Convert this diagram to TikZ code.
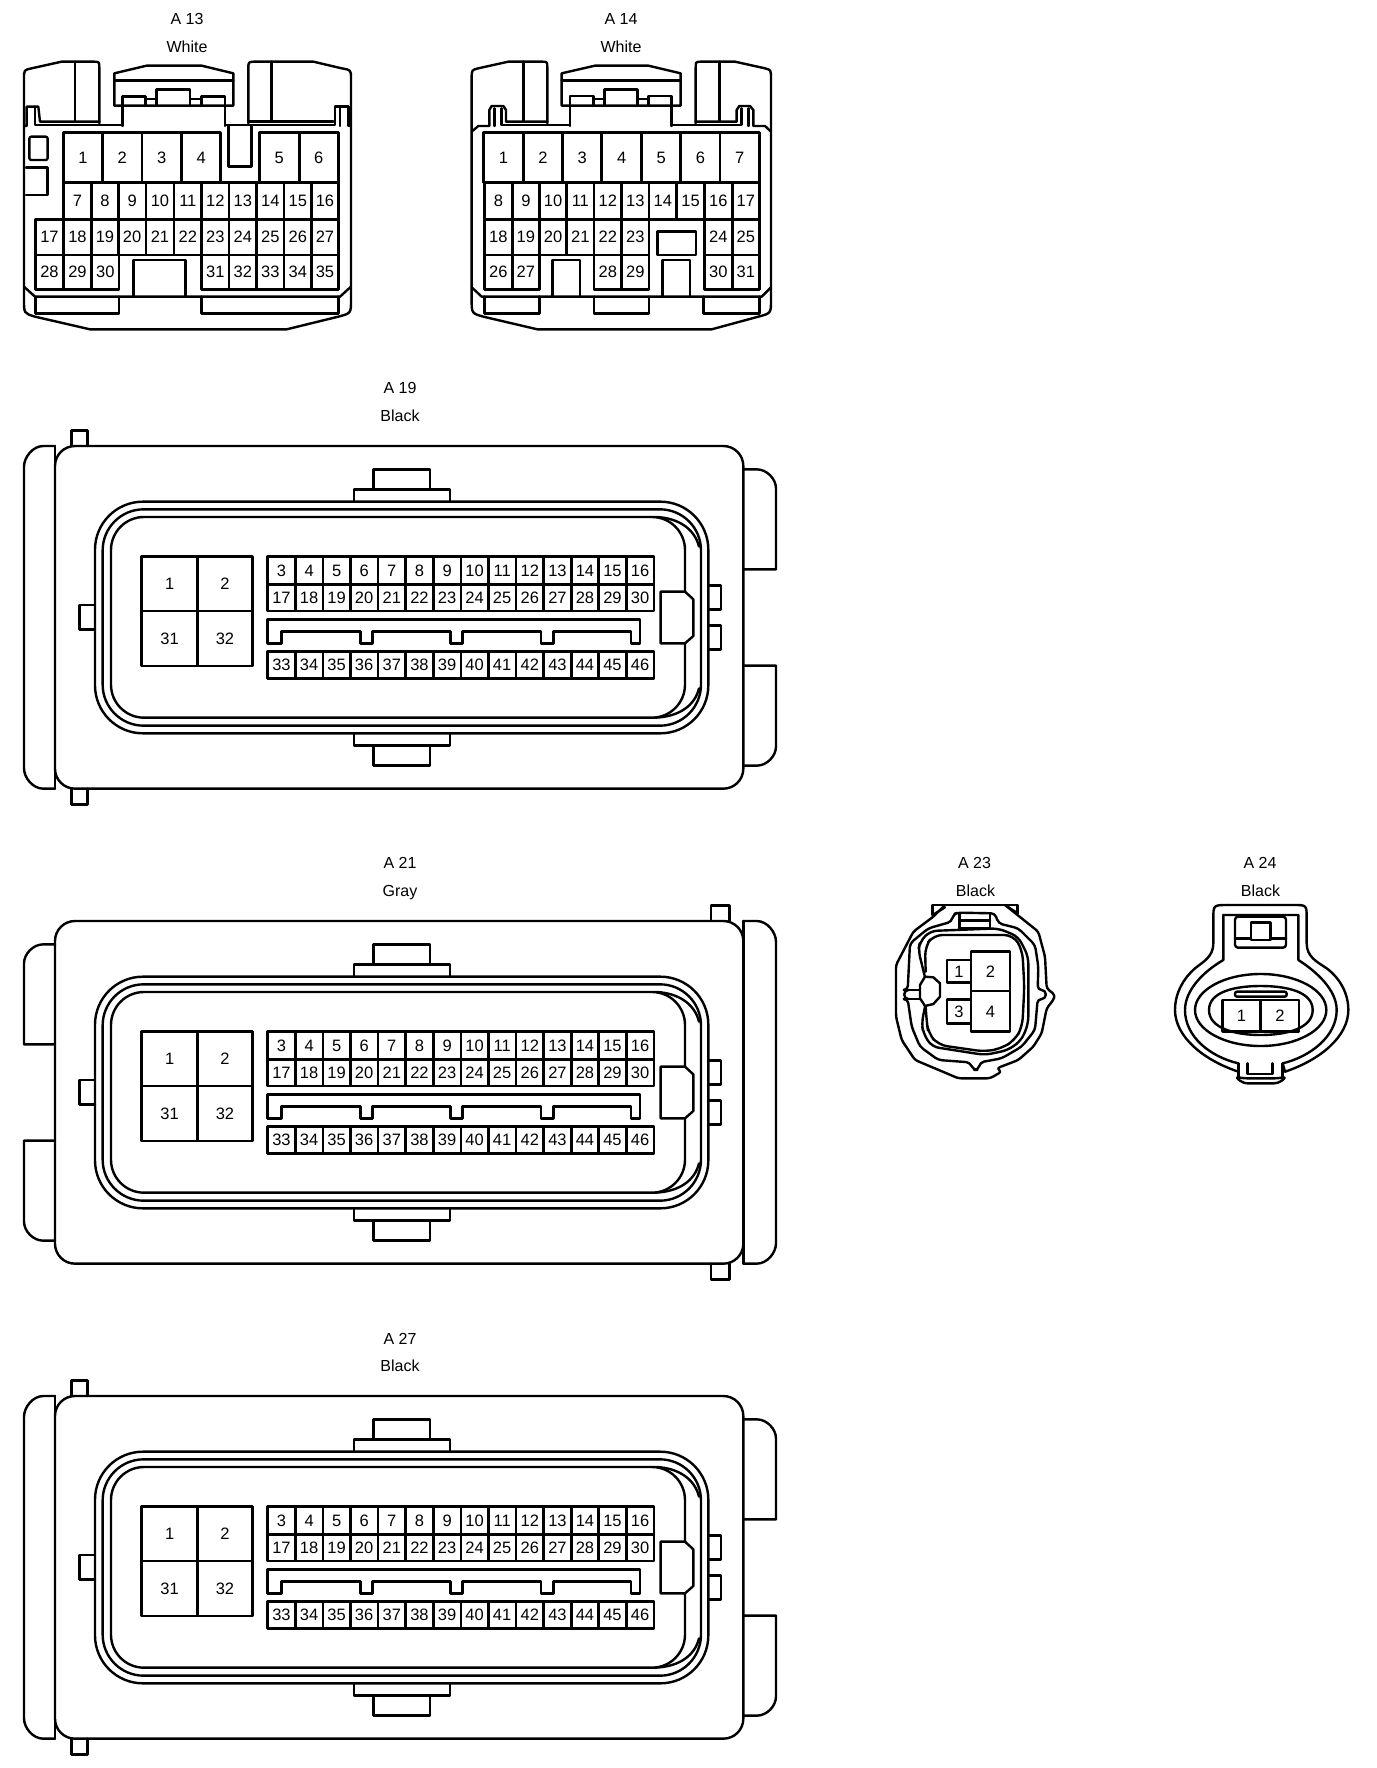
\documentclass[tikz,border=0pt]{standalone}
\usepackage{fontspec}
\setmainfont{Liberation Sans}
\tikzset{
  ln/.style={line width=2.4pt,line join=round,line cap=round,draw=black},
  pinlabel/.style={inner sep=0pt,font=\fontsize{16.5}{18}\selectfont,text=black},
  title/.style={inner sep=0pt,font=\fontsize{16}{18}\selectfont,text=black,text height=11.5pt,text depth=0pt},
  zoomed/.style={x=0.33333pt,y=-0.33333pt}
}
% row of pins: y1, y2, prefix, list of xa/xb/label
\newcommand{\pinrow}[4]{%
  \foreach \xa/\xb/\t in {#4}{%
    \draw[ln] (\xa,#1) rectangle (\xb,#2);
    \node[pinlabel] (#3\t) at ({(\xa+\xb)/2},{(#1+#2)/2}) {\t};
  }%
}
\newcommand{\ecucore}[1]{%
  % body
  \draw[ln,rounded corners=20pt] (165,228) rectangle (2230,1256);
  % top and bottom latches
  \draw[ln] (1062,393)--(1062,358)--(1350,358)--(1350,393);
  \draw[ln] (1120,358)--(1120,298)--(1290,298)--(1290,358);
  \draw[ln] (1062,1093)--(1062,1127)--(1350,1127)--(1350,1093);
  \draw[ln] (1120,1127)--(1120,1187)--(1290,1187)--(1290,1127);
  % shroud
  \draw[ln,rounded corners=48pt] (285,395) rectangle (2125,1090);
  \draw[ln,rounded corners=41pt] (308,418) rectangle (2103,1067);
  \draw[ln,rounded corners=33pt] (333,441) rectangle (2055,1043);
  \draw[ln] (1970,441) .. controls (2040,445) and (2085,480) .. (2097,530);
  \draw[ln] (1965,1043) .. controls (2040,1040) and (2085,1005) .. (2097,955);
  % side tabs
  \draw[ln] (285,705)--(238,705)--(238,778)--(285,778);
  \draw[ln] (2125,647)--(2163,647)--(2163,718)--(2125,718);
  \draw[ln] (2125,767)--(2163,767)--(2163,838)--(2125,838);
  \draw[ln,fill=white] (1982,665)--(2055,665)--(2080,688)--(2080,798)--(2055,820)--(1982,820)--cycle;
  % big pins
  \pinrow{560}{723}{#1}{425/593/1,593/757/2}
  \pinrow{723}{888}{#1}{425/593/31,593/757/32}
  % small pins
  \pinrow{560}{643}{#1}{803/886/3,886/969/4,969/1051/5,1051/1134/6,1134/1217/7,1217/1300/8,1300/1383/9,1383/1465/10,1465/1548/11,1548/1631/12,1631/1714/13,1714/1796/14,1796/1879/15,1879/1962/16}
  \pinrow{643}{723}{#1}{803/886/17,886/969/18,969/1051/19,1051/1134/20,1134/1217/21,1217/1300/22,1300/1383/23,1383/1465/24,1465/1548/25,1548/1631/26,1631/1714/27,1714/1796/28,1796/1879/29,1879/1962/30}
  \pinrow{845}{925}{#1}{803/886/33,886/969/34,969/1051/35,1051/1134/36,1134/1217/37,1217/1300/38,1300/1383/39,1383/1465/40,1465/1548/41,1548/1631/42,1631/1714/43,1714/1796/44,1796/1879/45,1879/1962/46}
  % comb
  \draw[ln] (803,748)--(803,820)--(845,820)--(845,785)--(1082,785)--(1082,820)--(1118,820)--(1118,785)--(1352,785)--(1352,820)--(1388,820)--(1388,785)--(1623,785)--(1623,820)--(1660,820)--(1660,785)--(1893,785)--(1893,820)--(1920,820)--(1920,748)--cycle;
}
% end piece: xb body edge, xc start of curve, xo outer, t1 t2 small tab
\newcommand{\ecupiece}[5]{%
  \draw[ln] (#1,228)--(#2,228) .. controls ({#2+0.55*(#3-#2)},228) and (#3,262) .. (#3,290)--(#3,1195) .. controls (#3,1223) and ({#2+0.55*(#3-#2)},1256) .. (#2,1256)--(#1,1256);
  \draw[ln] (#1,228)--(#1,1256);
  \draw[ln] (#4,228)--(#4,182)--(#5,182)--(#5,228);
  \draw[ln] (#4,1256)--(#4,1303)--(#5,1303)--(#5,1256);
}
\newcommand{\ecutabs}[3]{%
  \draw[ln] (#1,298)--(#2,298) .. controls ({#2+0.55*(#3-#2)},298) and (#3,328) .. (#3,355)--(#3,598)--(#1,598);
  \draw[ln] (#1,887)--(#3,887)--(#3,1130) .. controls (#3,1157) and ({#2+0.55*(#3-#2)},1187) .. (#2,1187)--(#1,1187);
}
\begin{document}
\begin{tikzpicture}[x=1pt,y=-1pt]
\useasboundingbox (0,0) rectangle (1376,1768);
% ---------- titles
\node[title] (t13a) at (187,19) {A 13};
\node[title] (t13b) at (187,46.7) {White};
\node[title] (t14a) at (621,19) {A 14};
\node[title] (t14b) at (621,46.7) {White};
\node[title] (t19a) at (400,388) {A 19};
\node[title] (t19b) at (400,415.7) {Black};
\node[title] (t21a) at (400,863) {A 21};
\node[title] (t21b) at (400,890.7) {Gray};
\node[title] (t27a) at (400,1338.3) {A 27};
\node[title] (t27b) at (400,1365.5) {Black};
\node[title] (t23a) at (974.5,863) {A 23};
\node[title] (t23b) at (975.5,891) {Black};
\node[title] (t24a) at (1260,863) {A 24};
\node[title] (t24b) at (1260.5,891) {Black};
% ---------- A13
\begin{scope}[shift={(0,0)},zoomed]
  \draw[ln] (298,370)--(298,205) .. controls (298,185) .. (280,185)--(185,185)--(95,205) .. controls (72,210) .. (72,235)--(72,900) .. controls (72,940) .. (105,950)--(270,988)--(860,988)--(1015,950) .. controls (1053,940) .. (1053,900)--(1053,235) .. controls (1053,210) .. (1025,205)--(940,185)--(770,185) .. controls (745,185) .. (745,205)--(745,370);
  \draw[ln] (225,185)--(225,365);
  \draw[ln] (815,185)--(815,365);
  \draw[ln] (343,317)--(343,220)--(440,197)--(605,197)--(700,220)--(700,317)--cycle;
  \draw[ln] (343,242)--(700,242);
  \draw[ln] (368,378)--(368,290)--(437,290)--(437,317);
  \draw[ln] (470,317)--(470,268)--(570,268)--(570,317);
  \draw[ln] (605,317)--(605,290)--(675,290)--(675,378);
  \draw[ln] (437,297)--(470,297) (570,297)--(605,297);
  \draw[ln] (72,378)--(80,378)--(80,320)--(115,320)--(120,365)--(298,365);
  \draw[ln] (105,320)--(105,375)--(368,375);
  \draw[ln] (675,375)--(1005,375)--(1005,320)--(1045,320)--(1045,378)--(1053,378);
  \draw[ln] (745,365)--(1000,365);
  \draw[ln] (1020,320)--(1020,378);
  \draw[ln] (685,378)--(685,500)--(755,500)--(755,378);
  \draw[ln,rounded corners=2pt] (88,410) rectangle (143,480);
  \draw[ln] (78,503)--(143,503)--(143,585)--(78,585);
  \pinrow{398}{548}{a13p}{190/308/1,308/426/2,426/545/3,545/662/4,778/898/5,898/1015/6}
  \pinrow{548}{658}{a13p}{190/275/7,275/355/8,355/438/9,438/522/10,522/605/11,605/687/12,687/770/13,770/852/14,852/935/15,935/1015/16}
  \pinrow{658}{765}{a13p}{107/190/17,190/275/18,275/355/19,355/438/20,438/522/21,522/605/22,605/687/23,687/770/24,770/852/25,852/935/26,935/1015/27}
  \pinrow{765}{868}{a13p}{107/190/28,190/275/29,275/357/30,605/687/31,687/770/32,770/852/33,852/935/34,935/1015/35}
  \draw[ln] (400,890)--(400,780)--(557,780)--(557,890);
  \draw[ln] (72,860)--(105,890)--(1020,890)--(1053,860);
  \draw[ln] (107,890)--(107,940)--(357,940)--(357,890);
  \draw[ln] (605,890)--(605,940)--(1015,940)--(1015,890);
\end{scope}
% ---------- A14
\begin{scope}[shift={(450,0)},zoomed]
  \draw[ln] (292,370)--(292,205) .. controls (292,185) .. (275,185)--(175,185)--(85,205) .. controls (65,210) .. (65,235)--(65,900) .. controls (65,940) .. (100,950)--(262,988)--(785,988)--(925,950) .. controls (963,940) .. (963,900)--(963,235) .. controls (963,210) .. (945,205)--(855,185)--(755,185) .. controls (737,185) .. (737,205)--(737,370);
  \draw[ln] (220,185)--(220,365);
  \draw[ln] (808,185)--(808,365);
  \draw[ln] (335,317)--(335,220)--(435,197)--(595,197)--(692,220)--(692,317)--cycle;
  \draw[ln] (335,242)--(692,242);
  \draw[ln] (360,378)--(360,288)--(430,288)--(430,317);
  \draw[ln] (463,317)--(463,268)--(563,268)--(563,317);
  \draw[ln] (595,317)--(595,288)--(665,288)--(665,378);
  \draw[ln] (430,297)--(463,297) (563,297)--(595,297);
  \draw[ln] (65,395)--(85,378)--(118,378)--(118,330)--(125,318)--(160,318)--(168,330)--(168,365)--(292,365);
  \draw[ln] (133,325)--(133,378);
  \draw[ln] (155,325)--(155,375)--(360,375);
  \draw[ln] (665,375)--(875,375)--(875,325);
  \draw[ln] (737,365)--(860,365)--(860,330)--(868,318)--(900,318)--(910,330)--(910,378)--(945,378)--(963,395);
  \draw[ln] (895,325)--(895,378);
  \pinrow{398}{548}{a14p}{100/220/1,220/338/2,338/455/3,455/575/4,575/692/5,692/810/6,810/928/7}
  \pinrow{548}{658}{a14p}{103/187/8,187/268/9,268/350/10,350/432/11,432/515/12,515/597/13,597/680/14,680/763/15,763/847/16,847/928/17}
  \pinrow{658}{765}{a14p}{103/187/18,187/268/19,268/350/20,350/432/21,432/515/22,515/597/23,763/847/24,847/928/25}
  \pinrow{765}{868}{a14p}{103/187/26,187/268/27,432/515/28,515/597/29,763/847/30,847/928/31}
  \draw[ln] (622,695) rectangle (738,765);
  \draw[ln] (307,890)--(307,780)--(390,780)--(390,890);
  \draw[ln] (638,890)--(638,780)--(720,780)--(720,890);
  \draw[ln] (65,862)--(95,890)--(935,890)--(963,862);
  \draw[ln] (103,890)--(103,940)--(268,940)--(268,890);
  \draw[ln] (432,890)--(432,940)--(597,940)--(597,890);
  \draw[ln] (760,890)--(760,940)--(928,940)--(928,890);
\end{scope}
% ---------- A19
\begin{scope}[shift={(0,370)},zoomed]
  \ecupiece{165}{130}{72}{215}{262}
  \ecutabs{2230}{2270}{2328}
  \ecucore{a19p}
\end{scope}
% ---------- A21
\begin{scope}[shift={(0,845)},zoomed]
  \ecupiece{2230}{2270}{2328}{2133}{2188}
  \ecutabs{165}{130}{72}
  \ecucore{a21p}
\end{scope}
% ---------- A27
\begin{scope}[shift={(0,1320)},zoomed]
  \ecupiece{165}{130}{72}{215}{262}
  \ecutabs{2230}{2270}{2328}
  \ecucore{a27p}
\end{scope}
% ---------- A23
\begin{scope}[shift={(880,850)},zoomed]
  % tab on top
  \draw[ln] (158,195)--(158,165)--(413,165)--(413,190);
  \draw[ln] (158,195)--(195,172);
  \draw[ln] (413,190)--(378,167);
  % outline
  \draw[ln,rounded corners=3pt] (195,165)--(160,200)--(100,245)--(48,345)--(48,500)--(65,570)--(105,630)--(200,670)--(235,685)--(330,685)--(365,665)--(350,655)--(415,630)--(460,590)--(485,550)--(500,475)--(520,450)--(525,435)--(500,415)--(495,320)--(475,245)--(375,165);
  % second ring with stubs
  \draw[ln,rounded corners=4pt] (83,420)--(90,280)--(145,235)--(215,215)--(220,192)--(235,188)--(345,190)--(355,220)--(415,235)--(465,285)--(475,350)--(473,420)--(497,420)--(497,447)--(473,447)--(465,540)--(425,590)--(365,625)--(300,637)--(295,660)--(280,660)--(270,637)--(175,630)--(120,590)--(95,530)--(83,447)--(73,447)--(73,420)--cycle;
  \draw[ln] (73,420)--(118,420) (73,447)--(118,447);
  % third ring
  \draw[ln,rounded corners=7pt] (135,382)--(115,300)--(120,275)--(150,243)--(355,235)--(415,260)--(445,320)--(445,520)--(425,570)--(385,600)--(315,615)--(155,590)--(130,550)--(125,520)--(135,470);
  % fourth ring
  \draw[ln,rounded corners=9pt] (137,365)--(135,290)--(160,255)--(400,255)--(427,300)--(433,410)--(427,530)--(405,570)--(365,595)--(315,605)--(175,585)--(145,550)--(140,515)--(137,470);
  % window on top
  \draw[ln] (238,190)--(238,235)--(330,235)--(330,190) (238,212)--(330,212);
  % latch
  \draw[ln,fill=white] (120,405)--(135,380)--(160,382)--(180,400)--(180,440)--(160,462)--(135,468)--(120,445)--cycle;
  \pinrow{330}{398}{a23p}{201/273/1}
  \pinrow{448}{520}{a23p}{201/273/3}
  \draw[ln,fill=white] (273,305) rectangle (390,423);
  \draw[ln,fill=white] (273,423) rectangle (390,545);
  \node[pinlabel] (a23p2) at (331,364) {2};
  \node[pinlabel] (a23p4) at (331,484) {4};
\end{scope}
% ---------- A24
\begin{scope}[shift={(1160,850)},zoomed]
  \draw[ln] (205,165)--(400,165) .. controls (440,165) .. (440,205)--(440,280) .. controls (440,320) and (470,335) .. (500,355) .. controls (540,385) and (565,430) .. (565,480) .. controls (565,560) and (480,630) .. (375,665)--(368,640);
  \draw[ln] (205,165) .. controls (160,165) .. (160,205)--(160,280) .. controls (160,320) and (130,335) .. (105,355) .. controls (70,385) and (45,430) .. (45,480) .. controls (45,560) and (130,630) .. (235,665)--(235,640);
  \draw[ln] (190,195)--(415,195)--(415,330) .. controls (470,365) and (530,420) .. (530,480) .. controls (530,560) and (450,620) .. (368,640);
  \draw[ln] (190,195)--(190,330) .. controls (130,365) and (75,420) .. (75,480) .. controls (75,560) and (150,620) .. (235,640);
  \draw[ln] (302,480) ellipse [x radius=197,y radius=108];
  \draw[ln] (147,480) .. controls (147,425) and (225,408) .. (302,408) .. controls (380,408) and (458,425) .. (458,480) .. controls (458,535) and (380,555) .. (302,555) .. controls (225,555) and (147,535) .. (147,480) -- cycle;
  \draw[ln,rounded corners=2pt] (225,425) rectangle (380,440);
  \pinrow{450}{545}{a24p}{187/302/1,302/417/2}
  \draw[ln,rounded corners=3pt] (225,293)--(225,200)--(378,200)--(378,293)--cycle;
  \draw[ln] (225,265)--(273,265) (332,265)--(378,265);
  \draw[ln] (273,218) rectangle (332,270);
  \draw[ln] (262,640)--(262,672)--(338,672)--(338,640) (368,640)--(368,680) (235,640)--(235,680);
  \draw[ln,rounded corners=4pt] (225,680)--(250,700)--(355,700)--(380,680)--(355,685)--(250,685)--cycle;
\end{scope}
\end{tikzpicture}
\end{document}
